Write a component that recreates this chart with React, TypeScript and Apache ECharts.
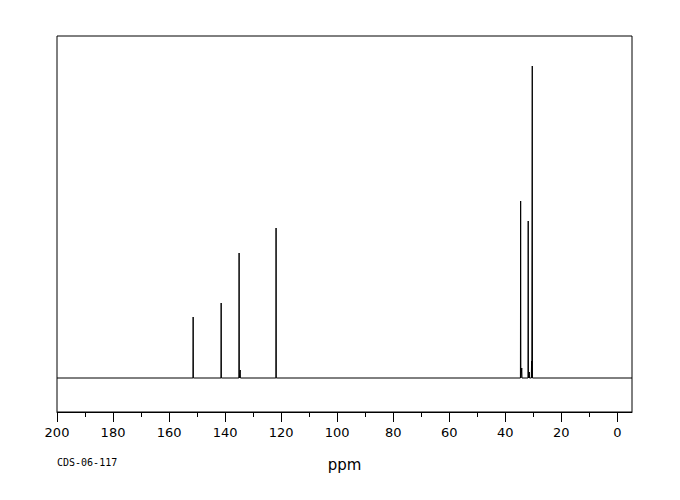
import React, { useEffect, useRef } from "react";
import * as echarts from "echarts";

// Peak positions (ppm) and heights (arbitrary intensity units, baseline = 0)
const peakPpm = [151.4, 141.4, 135.0, 134.6, 121.8, 34.5, 34.1, 31.8, 31.4, 30.6, 30.35];
const peakHeight = [61, 75, 125, 8, 150, 177, 10, 157, 6, 17, 312];
const majorTicks = [0, 20, 40, 60, 80, 100, 120, 140, 160, 180, 200];
const minorTicks = [10, 30, 50, 70, 90, 110, 130, 150, 170, 190];
const xMin = -5.25;
const xMax = 200;
const halfWidth = 0.08;

export default function App() {
  const ref = useRef<HTMLDivElement>(null);
  useEffect(() => {
    if (!ref.current) return;
    const chart = echarts.init(ref.current, null, { renderer: "svg" });
    const order = peakPpm.map((_, i) => i).sort((a, b) => peakPpm[b] - peakPpm[a]);
    const data: number[][] = [[xMax, 0]];
    order.forEach((i) => {
      data.push([peakPpm[i] + halfWidth, 0]);
      data.push([peakPpm[i], peakHeight[i]]);
      data.push([peakPpm[i] - halfWidth, 0]);
    });
    data.push([xMin, 0]);
    const font = "'DejaVu Sans', sans-serif";
    chart.setOption({
      animation: false,
      backgroundColor: "#ffffff",
      grid: {
        left: 57,
        right: 48,
        top: 36,
        bottom: 88,
        show: true,
        borderColor: "#000",
        borderWidth: 1,
        backgroundColor: "transparent",
      },
      xAxis: [
        {
          type: "value",
          inverse: true,
          min: xMin,
          max: xMax,
          position: "bottom",
          name: "ppm",
          nameLocation: "middle",
          nameGap: 45,
          nameTextStyle: { fontFamily: font, fontSize: 15, color: "#000" },
          axisLine: { show: true, onZero: false, lineStyle: { color: "#000", width: 1 } },
          axisTick: { show: true, length: 10, customValues: majorTicks, lineStyle: { color: "#000" } },
          axisLabel: {
            show: true,
            customValues: majorTicks,
            margin: 14,
            fontFamily: font,
            fontSize: 13,
            color: "#000",
          },
          splitLine: { show: false },
        },
        {
          type: "value",
          inverse: true,
          min: xMin,
          max: xMax,
          position: "bottom",
          axisLine: { show: false, onZero: false },
          axisTick: { show: true, length: 5, customValues: minorTicks, lineStyle: { color: "#000" } },
          axisLabel: { show: false },
          splitLine: { show: false },
        },
      ],
      yAxis: {
        type: "value",
        min: -34,
        max: 342,
        show: false,
        splitLine: { show: false },
      },
      graphic: [
        {
          type: "text",
          left: 57,
          top: 457,
          style: {
            text: "CDS-06-117",
            fontFamily: "'DejaVu Sans Mono', monospace",
            fontSize: 10,
            fill: "#000",
          },
        },
      ],
      series: [
        {
          type: "line",
          xAxisIndex: 0,
          data,
          showSymbol: false,
          symbol: "none",
          lineStyle: { color: "#000", width: 1 },
          silent: true,
        },
      ],
    });
    return () => chart.dispose();
  }, []);
  return (
    <div
      ref={ref}
      style={{ position: "fixed", left: 0, top: 0, width: 680, height: 500, background: "#fff" }}
    />
  );
}
